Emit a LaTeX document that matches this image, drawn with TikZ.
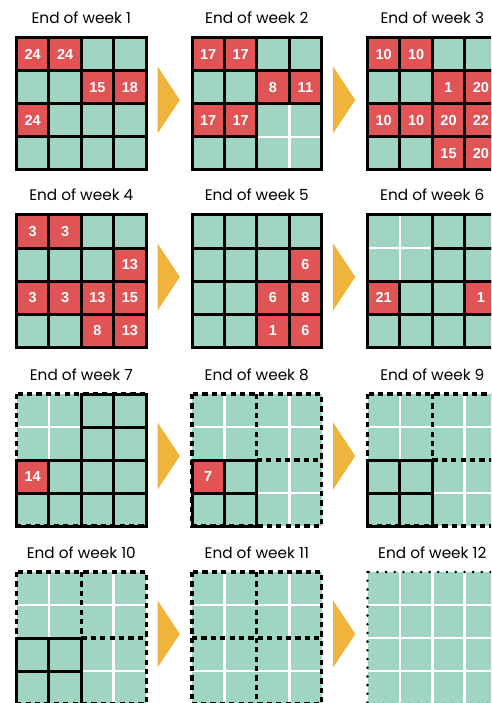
\documentclass[tikz,border=0pt]{standalone}
\usepackage{fontspec}
\setmainfont{Poppins}
\newfontfamily\numfont{Liberation Sans}
\definecolor{gridgreen}{HTML}{A0D5C1}
\definecolor{cellred}{HTML}{E15456}
\definecolor{arrowgold}{HTML}{F0B43D}
\newcommand\cellw{32.4}
\newcommand\cellh{33}

\begin{document}
\begin{tikzpicture}[x=1pt,y=-1pt,
  cellbox/.style={draw=black,line width=3pt},
  dashbox/.style={draw=black,line width=3.2pt,dash pattern=on 5.2pt off 4.2pt},
  dotbox/.style={draw=black,line width=2.8pt,line cap=round,dash pattern=on 0pt off 8.7pt},
  whiteln/.style={draw=white,line width=2.8pt},
  num/.style={text=white,font=\numfont\bfseries\fontsize{14.5}{14.5}\selectfont},
  ttl/.style={font=\fontsize{15.3}{15.3}\selectfont,anchor=base}]
  \useasboundingbox (0,0) rectangle (491,703);
  \clip (0,0) rectangle (491,703);

  \foreach \n/\px/\py in {1/16.5/38,2/192/38,3/367.5/38,
                          4/16.5/215,5/192/215,6/367.5/215,
                          7/16.5/394,8/192/394,9/367.5/394,
                          10/16.5/572,11/192/572,12/367.5/572}
    \coordinate (P\n) at (\px,\py);

  \foreach \n in {1,...,12} {
    \fill[gridgreen] (P\n) rectangle +(4*\cellw,4*\cellh);
    \node[ttl] (T\n) at ([shift={(2*\cellw,-14)}]P\n) {End of week \n};
  }

  \foreach \n/\r/\c/\v in {1/0/0/24,1/0/1/24,1/1/2/15,1/1/3/18,1/2/0/24,
      2/0/0/17,2/0/1/17,2/1/2/8,2/1/3/11,2/2/0/17,2/2/1/17,
      3/0/0/10,3/0/1/10,3/1/2/1,3/1/3/20,3/2/0/10,3/2/1/10,3/2/2/20,3/2/3/22,3/3/2/15,3/3/3/20,
      4/0/0/3,4/0/1/3,4/1/3/13,4/2/0/3,4/2/1/3,4/2/2/13,4/2/3/15,4/3/2/8,4/3/3/13,
      5/1/3/6,5/2/2/6,5/2/3/8,5/3/2/1,5/3/3/6,
      6/2/0/21,6/2/3/1,7/2/0/14,8/2/0/7} {
    \fill[cellred] ([shift={(\c*\cellw,\r*\cellh)}]P\n) rectangle +(\cellw,\cellh);
    \node[num] (V\n-\r\c) at ([shift={(\c*\cellw+\cellw/2,\r*\cellh+\cellh/2)}]P\n) {\v};
  }

  \foreach \n/\r/\c in {2/2/2,6/0/0,7/0/0,8/0/0,8/0/2,8/2/2,9/0/0,9/0/2,9/2/2,
      10/0/0,10/0/2,10/2/2,11/0/0,11/0/2,11/2/0,11/2/2,12/0/0,12/0/2,12/2/0,12/2/2} {
    \draw[whiteln] ([shift={(\c*\cellw,\r*\cellh+\cellh)}]P\n) -- +(2*\cellw,0);
    \draw[whiteln] ([shift={(\c*\cellw+\cellw,\r*\cellh)}]P\n) -- +(0,2*\cellh);
  }
  \draw[whiteln] ([shift={(0,2*\cellh)}]P12) -- +(4*\cellw,0);
  \draw[whiteln] ([shift={(2*\cellw,0)}]P12) -- +(0,4*\cellh);

  \foreach \n in {7,...,11}
    \draw[dashbox] (P\n) rectangle +(4*\cellw,4*\cellh);
  \foreach \n in {8,9,10} {
    \draw[dashbox] ([shift={(2*\cellw,0)}]P\n) -- +(0,2*\cellh);
    \draw[dashbox] ([shift={(2*\cellw,2*\cellh)}]P\n) -- +(2*\cellw,0);
  }
  \draw[dashbox] ([shift={(2*\cellw,0)}]P11) -- +(0,4*\cellh);
  \draw[dashbox] ([shift={(0,2*\cellh)}]P11) -- +(4*\cellw,0);
  \draw[dotbox] (P12) rectangle +(4*\cellw,4*\cellh);

  \foreach \n/\br/\bc in {1/9/9,2/2/2,3/9/9,4/9/9,5/9/9,6/0/0,7/0/0}
    \foreach \r in {0,...,3}
      \foreach \c in {0,...,3} {
        \pgfmathtruncatemacro\inblk{and(and(\r>=\br,\r<=\br+1),and(\c>=\bc,\c<=\bc+1))}
        \ifnum\inblk=0
          \draw[cellbox] ([shift={(\c*\cellw,\r*\cellh)}]P\n) rectangle +(\cellw,\cellh);
        \fi
      }
  \foreach \n/\r/\c in {2/2/2,6/0/0}
    \draw[cellbox] ([shift={(\c*\cellw,\r*\cellh)}]P\n) rectangle +(2*\cellw,2*\cellh);
  \foreach \n in {8,9,10}
    \foreach \r in {2,3}
      \foreach \c in {0,1}
        \draw[cellbox] ([shift={(\c*\cellw,\r*\cellh)}]P\n) rectangle +(\cellw,\cellh);

  \foreach \n in {1,2,4,5,7,8,10,11}
    \fill[arrowgold] ([shift={(4*\cellw+11.5,28.5)}]P\n) -- ([shift={(4*\cellw+33.7,62)}]P\n)
      -- ([shift={(4*\cellw+11.5,95.5)}]P\n) -- cycle;
\end{tikzpicture}
\end{document}
